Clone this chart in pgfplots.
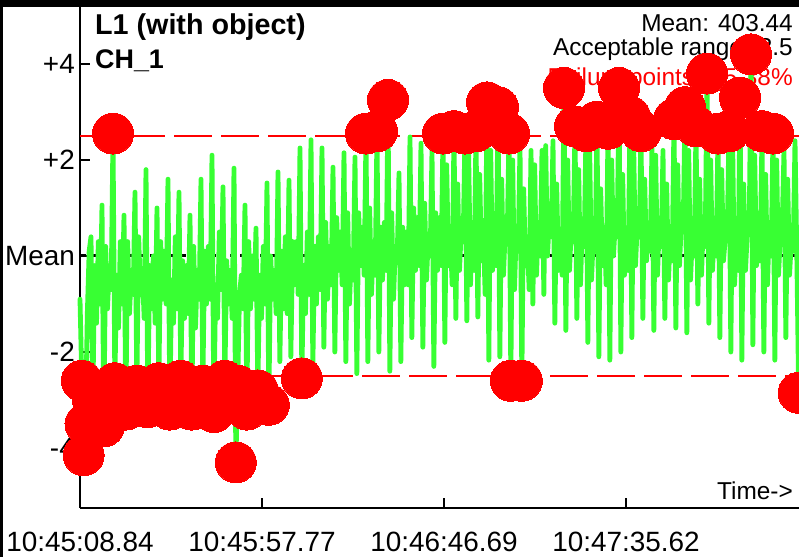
\documentclass[border=0pt]{standalone}
\usepackage{fontspec}
\setmainfont{Liberation Sans}
\usepackage{pgfplots}
\pgfplotsset{compat=1.18}
\usepackage{pgfplotstable}
\definecolor{siggreen}{RGB}{56,255,51}
\definecolor{failred}{RGB}{255,0,0}

\pgfplotstableread[row sep=\\]{
j v\\
0 -0.9\\ 1 -2.6\\ 2 -4.15\\ 3 -3.5\\ 4 -1.2\\ 5 0.1\\
6 0.4\\ 7 -3.0\\ 8 -0.2\\ 9 -1.4\\ 10 0.3\\ 11 -1.0\\
12 1.06\\ 13 -3.55\\ 14 0.2\\ 15 -1.1\\ 16 -0.2\\ 17 -0.7\\
18 2.55\\ 19 -2.65\\ 20 -0.4\\ 21 -1.5\\ 22 0.3\\ 23 -1.0\\
24 0.85\\ 25 -3.2\\ 26 0.3\\ 27 -1.2\\ 28 -0.3\\ 29 -0.8\\
30 1.33\\ 31 -2.7\\ 32 0.4\\ 33 -0.8\\ 34 -0.3\\ 35 -1.3\\
36 1.8\\ 37 -3.15\\ 38 -0.2\\ 39 -1.1\\ 40 0.0\\ 41 -1.4\\
42 1.0\\ 43 -2.65\\ 44 0.3\\ 45 -0.9\\ 46 0.1\\ 47 -1.0\\
48 1.6\\ 49 -3.2\\ 50 -0.5\\ 51 -1.4\\ 52 0.4\\ 53 -1.1\\
54 1.33\\ 55 -2.6\\ 56 -0.1\\ 57 -1.3\\ 58 -0.2\\ 59 -1.2\\
60 0.85\\ 61 -3.2\\ 62 0.2\\ 63 -1.5\\ 64 -0.3\\ 65 -0.9\\
66 1.6\\ 67 -2.7\\ 68 0.1\\ 69 -1.0\\ 70 0.2\\ 71 -0.9\\
72 2.1\\ 73 -3.25\\ 74 -0.6\\ 75 -1.3\\ 76 0.5\\ 77 -0.7\\
78 1.44\\ 79 -2.6\\ 80 -0.1\\ 81 -1.0\\ 82 -0.3\\ 83 -1.3\\
84 1.83\\ 85 -4.3\\ 86 -2.7\\ 87 -0.8\\ 88 -0.4\\ 89 -1.1\\
90 1.06\\ 91 -3.2\\ 92 0.3\\ 93 -1.1\\ 94 0.0\\ 95 -0.9\\
96 0.58\\ 97 -2.8\\ 98 -0.4\\ 99 -1.3\\ 100 0.2\\ 101 -1.0\\
102 1.52\\ 103 -3.1\\ 104 0.0\\ 105 -0.9\\ 106 -0.3\\ 107 -1.2\\
108 1.75\\ 109 -2.2\\ 110 0.1\\ 111 -1.1\\ 112 0.4\\ 113 -1.2\\
114 1.58\\ 115 -2.1\\ 116 0.3\\ 117 -0.6\\ 118 0.3\\ 119 -0.8\\
120 2.25\\ 121 -2.55\\ 122 -0.2\\ 123 -1.2\\ 124 0.5\\ 125 -0.8\\
126 2.42\\ 127 -2.3\\ 128 0.2\\ 129 -1.0\\ 130 0.4\\ 131 -0.7\\
132 2.25\\ 133 -1.9\\ 134 0.7\\ 135 -0.9\\ 136 0.2\\ 137 -0.6\\
138 1.85\\ 139 -2.0\\ 140 0.8\\ 141 -0.3\\ 142 0.5\\ 143 -0.6\\
144 2.15\\ 145 -2.2\\ 146 0.9\\ 147 -1.0\\ 148 0.1\\ 149 -0.5\\
150 2.06\\ 151 -2.45\\ 152 0.9\\ 153 -0.2\\ 154 0.6\\ 155 -0.4\\
156 2.55\\ 157 -2.2\\ 158 1.0\\ 159 -0.8\\ 160 0.3\\ 161 -0.4\\
162 2.6\\ 163 -2.0\\ 164 0.6\\ 165 -0.5\\ 166 0.7\\ 167 -0.3\\
168 3.25\\ 169 -2.4\\ 170 0.9\\ 171 -0.9\\ 172 0.2\\ 173 -0.1\\
174 1.73\\ 175 -2.2\\ 176 0.6\\ 177 -0.6\\ 178 0.5\\ 179 -0.6\\
180 2.48\\ 181 -1.7\\ 182 1.0\\ 183 -0.3\\ 184 0.8\\ 185 -0.2\\
186 2.35\\ 187 -1.9\\ 188 1.1\\ 189 -0.5\\ 190 0.4\\ 191 0.0\\
192 2.2\\ 193 -2.3\\ 194 0.9\\ 195 -0.3\\ 196 0.8\\ 197 -0.2\\
198 2.55\\ 199 -1.8\\ 200 1.9\\ 201 -0.2\\ 202 0.4\\ 203 -0.6\\
204 2.6\\ 205 -1.3\\ 206 1.5\\ 207 -0.3\\ 208 0.6\\ 209 0.3\\
210 2.55\\ 211 -1.35\\ 212 2.1\\ 213 -0.6\\ 214 0.7\\ 215 -0.3\\
216 2.6\\ 217 -1.27\\ 218 1.7\\ 219 -0.1\\ 220 0.5\\ 221 -0.8\\
222 3.2\\ 223 -2.17\\ 224 2.2\\ 225 -0.3\\ 226 0.5\\ 227 -0.2\\
228 3.1\\ 229 -2.1\\ 230 1.6\\ 231 -0.4\\ 232 0.6\\ 233 0.3\\
234 2.55\\ 235 -2.6\\ 236 2.0\\ 237 -0.7\\ 238 0.6\\ 239 0.1\\
240 2.3\\ 241 -2.6\\ 242 1.4\\ 243 -0.2\\ 244 0.3\\ 245 -0.7\\
246 2.2\\ 247 -1.0\\ 248 1.9\\ 249 -0.4\\ 250 0.7\\ 251 0.0\\
252 2.2\\ 253 -0.8\\ 254 2.3\\ 255 0.0\\ 256 0.8\\ 257 0.4\\
258 2.4\\ 259 -1.4\\ 260 1.5\\ 261 -0.3\\ 262 0.5\\ 263 -0.4\\
264 3.5\\ 265 -1.55\\ 266 2.0\\ 267 -0.3\\ 268 0.6\\ 269 0.3\\
270 2.7\\ 271 -1.3\\ 272 1.8\\ 273 -0.6\\ 274 0.7\\ 275 0.2\\
276 2.6\\ 277 -1.8\\ 278 2.2\\ 279 -0.5\\ 280 0.4\\ 281 0.1\\
282 2.8\\ 283 -2.1\\ 284 1.4\\ 285 -0.2\\ 286 0.6\\ 287 -0.6\\
288 2.65\\ 289 -2.17\\ 290 2.0\\ 291 0.0\\ 292 0.7\\ 293 0.4\\
294 3.5\\ 295 -2.0\\ 296 1.7\\ 297 -0.4\\ 298 0.4\\ 299 -0.3\\
300 2.9\\ 301 -1.7\\ 302 2.3\\ 303 -0.2\\ 304 0.7\\ 305 0.4\\
306 2.6\\ 307 -1.3\\ 308 1.6\\ 309 -0.1\\ 310 0.6\\ 311 0.1\\
312 2.3\\ 313 -1.55\\ 314 2.1\\ 315 -0.4\\ 316 0.7\\ 317 0.2\\
318 2.2\\ 319 -1.3\\ 320 1.5\\ 321 -0.5\\ 322 0.5\\ 323 -0.1\\
324 2.85\\ 325 -1.5\\ 326 1.9\\ 327 -0.2\\ 328 0.7\\ 329 0.5\\
330 3.1\\ 331 -1.6\\ 332 2.2\\ 333 -0.5\\ 334 0.4\\ 335 0.0\\
336 2.7\\ 337 -1.0\\ 338 1.6\\ 339 -0.4\\ 340 0.7\\ 341 0.2\\
342 3.8\\ 343 -1.4\\ 344 2.0\\ 345 -0.3\\ 346 0.6\\ 347 0.0\\
348 2.55\\ 349 -1.7\\ 350 1.8\\ 351 -0.1\\ 352 0.4\\ 353 0.4\\
354 2.6\\ 355 -2.0\\ 356 2.3\\ 357 -0.6\\ 358 0.3\\ 359 -0.3\\
360 3.3\\ 361 -2.17\\ 362 1.5\\ 363 -0.3\\ 364 0.5\\ 365 0.5\\
366 4.2\\ 367 -1.85\\ 368 2.1\\ 369 -0.2\\ 370 0.5\\ 371 -0.1\\
372 2.6\\ 373 -2.0\\ 374 1.7\\ 375 -0.6\\ 376 0.7\\ 377 0.0\\
378 2.55\\ 379 -2.17\\ 380 2.0\\ 381 -0.4\\ 382 0.4\\ 383 0.6\\
384 2.2\\ 385 -1.7\\ 386 1.6\\ 387 -0.4\\ 388 0.3\\ 389 0.1\\
390 2.4\\ 391 0.0\\ 392 -2.85\\
}\signal

\pgfplotstableread[row sep=\\]{
j v\\
1 -2.6\\ 2 -4.15\\ 3 -3.5\\ 7 -3.0\\ 13 -3.55\\ 19 -2.65\\ 25 -3.2\\ 31 -2.7\\
37 -3.15\\ 43 -2.65\\ 49 -3.2\\ 55 -2.6\\ 61 -3.2\\ 67 -2.7\\ 73 -3.25\\ 79 -2.6\\
85 -4.3\\ 86 -2.7\\ 91 -3.2\\ 97 -2.8\\ 103 -3.1\\ 121 -2.55\\
18 2.55\\ 156 2.55\\ 162 2.6\\ 168 3.25\\
198 2.55\\ 204 2.6\\ 210 2.55\\ 216 2.6\\ 222 3.2\\ 228 3.1\\ 234 2.55\\
264 3.5\\ 270 2.7\\ 276 2.6\\ 282 2.8\\ 288 2.65\\ 294 3.5\\ 300 2.9\\ 306 2.6\\
324 2.85\\ 330 3.1\\ 336 2.7\\ 342 3.8\\ 348 2.55\\ 354 2.6\\ 360 3.3\\ 366 4.2\\
372 2.6\\ 378 2.55\\
235 -2.6\\ 241 -2.6\\ 392 -2.85\\
}\failures

\begin{document}
\begin{tikzpicture}
\useasboundingbox (0bp,0bp) rectangle (799bp,557bp);
\fill[white] (0bp,0bp) rectangle (799bp,557bp);
\node[anchor=base west, inner sep=0pt, font=\fontsize{28.8}{30}\selectfont\bfseries] at (95bp,522bp) {L1 (with object)};
\node[anchor=base west, inner sep=0pt, font=\fontsize{27}{30}\selectfont\bfseries] at (95bp,488bp) {CH\_1};
\node[anchor=base east, inner sep=0pt, font=\fontsize{24.5}{28}\selectfont] at (793bp,525bp) {Mean: 403.44};
\node[anchor=base east, inner sep=0pt, font=\fontsize{24.5}{28}\selectfont] at (793bp,501bp) {Acceptable range: 2.5};
\node[anchor=base east, inner sep=0pt, font=\fontsize{24.5}{28}\selectfont, text=failred] at (793bp,471bp) {Failure points: 25.38\%};
\node[anchor=base east, inner sep=0pt, font=\fontsize{24.5}{28}\selectfont] at (793bp,57bp) {Time->};
\begin{axis}[
  at={(80bp,49bp)}, anchor=south west,
  scale only axis, width=719bp, height=508bp,
  xmin=0, xmax=392.18, ymin=-5.25, ymax=5.333,
  axis lines*=left,
  axis line style={line width=2bp, black},
  tick style={line width=2bp, black},
  tick align=inside,
  major tick length=10bp,
  xtick={0,99.27,198.55,297.82},
  xticklabels={10:45:08.84,10:45:57.77,10:46:46.69,10:47:35.62},
  ytick={-4,-2,0,2,4},
  yticklabels={-4,-2,Mean,+2,+4},
  ticklabel style={font=\fontsize{28}{30}\selectfont},
  xticklabel style={anchor=base, yshift=-43bp, inner sep=0pt},
  yticklabel style={anchor=east, inner sep=0pt, xshift=-5bp},
  clip=false,
]
\addplot[color=failred, line width=1.3bp, dash pattern=on 38bp off 9bp] coordinates {(0,2.5) (392.18,2.5)};
\addplot[color=failred, line width=1.3bp, dash pattern=on 38bp off 9bp] coordinates {(0,-2.5) (392.18,-2.5)};
\addplot[color=black, line width=3bp, dash pattern=on 6bp off 4bp] coordinates {(0,0) (392.18,0)};
\addplot[color=siggreen, line width=4.8bp, line join=round, line cap=round] table[x=j,y=v]{\signal};
\addplot[color=failred, only marks, mark=*, mark size=20.5bp, mark options={solid, fill=failred, draw=failred, line width=0pt}] table[x=j,y=v]{\failures};
\end{axis}
\fill[black] (0bp,550.3bp) rectangle (799bp,557bp);
\fill[black] (0bp,0bp) rectangle (3bp,557bp);
\end{tikzpicture}
\end{document}
